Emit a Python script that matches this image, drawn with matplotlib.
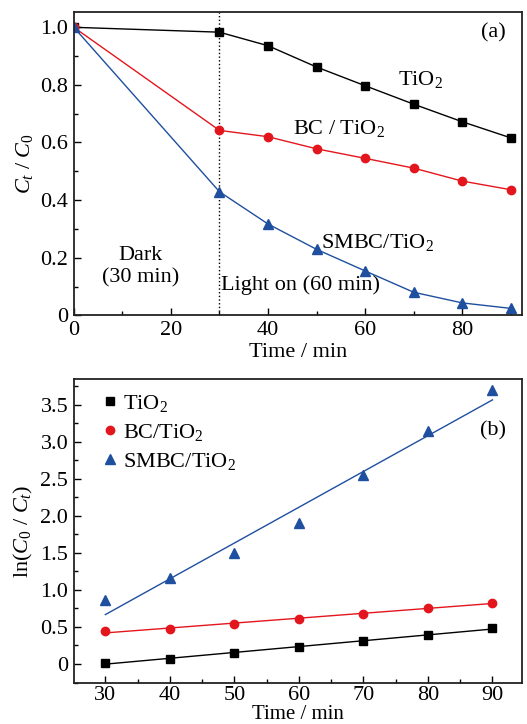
import numpy as np
import matplotlib
matplotlib.use("Agg")
import matplotlib.pyplot as plt
from matplotlib.ticker import MultipleLocator, FuncFormatter

plt.rcParams['font.family'] = ['Liberation Serif', 'DejaVu Serif']
plt.rcParams['mathtext.fontset'] = 'custom'
plt.rcParams['mathtext.rm'] = 'Liberation Serif'
plt.rcParams['mathtext.it'] = 'Liberation Serif:italic'
plt.rcParams['font.size'] = 16

# (a) degradation curves
t_a = [0, 30, 40, 50, 60, 70, 80, 90]
tio2_a = [1.0, 0.983, 0.936, 0.862, 0.797, 0.733, 0.672, 0.616]
bc_a = [1.0, 0.642, 0.620, 0.578, 0.545, 0.511, 0.466, 0.436]
smbc_a = [1.0, 0.429, 0.317, 0.229, 0.154, 0.080, 0.043, 0.024]

# (b) kinetics
t_b = [30, 40, 50, 60, 70, 80, 90]
tio2_b = [0.018, 0.068, 0.144, 0.230, 0.310, 0.396, 0.482]
bc_b = [0.442, 0.477, 0.545, 0.608, 0.671, 0.761, 0.829]
smbc_b = [0.865, 1.16, 1.50, 1.90, 2.55, 3.15, 3.70]

black = '#000000'
red = '#e3161d'
blue = '#1f4f9f'

fig = plt.figure(figsize=(5.27, 7.24), dpi=100)
ax1 = fig.add_axes([0.14, 0.5645, 0.8496, 0.4185])
ax2 = fig.add_axes([0.14, 0.057, 0.8496, 0.4195])

def zero_fmt(v, pos):
    if abs(v) < 1e-9:
        return '0'
    return f'{v:.1f}'

for ax in (ax1, ax2):
    for s in ax.spines.values():
        s.set_linewidth(1.3)
        s.set_color('#222222')
    ax.tick_params(which='both', direction='in', top=False, right=False,
                   labelsize=16, pad=4)
    ax.tick_params(which='major', length=5, width=1)
    ax.tick_params(which='minor', length=3, width=1)
    ax.yaxis.set_major_formatter(FuncFormatter(zero_fmt))

# panel (a)
ax1.axvline(30, color='black', linestyle=':', linewidth=1)
ax1.plot(t_a, tio2_a, '-s', color=black, lw=1, ms=5.5)
ax1.plot(t_a, bc_a, '-o', color=red, lw=1, ms=6)
ax1.plot(t_a, smbc_a, '-^', color=blue, lw=1, ms=6.5)
ax1.set_xlim(0, 92.2)
ax1.set_ylim(0, 1.052)
ax1.xaxis.set_major_locator(MultipleLocator(20))
ax1.xaxis.set_minor_locator(MultipleLocator(10))
ax1.yaxis.set_major_locator(MultipleLocator(0.2))
ax1.yaxis.set_minor_locator(MultipleLocator(0.1))
ax1.xaxis.set_major_formatter(FuncFormatter(lambda v, p: f'{v:.0f}'))
ax1.set_xlabel('Time / min', labelpad=2)
ax1.set_ylabel('$C_t$ / $C_0$', labelpad=4)
ax1.text(71.4, 0.82, 'TiO$_2$', ha='center', va='center')
ax1.text(54.7, 0.65, 'BC / TiO$_2$', ha='center', va='center')
ax1.text(62.5, 0.252, 'SMBC/TiO$_2$', ha='center', va='center')
ax1.text(13.7, 0.168, 'Dark\n(30 min)', ha='center', va='center', linespacing=1.2)
ax1.text(46.7, 0.105, 'Light on (60 min)', ha='center', va='center')
ax1.text(86.5, 0.98, '(a)', ha='center', va='center')

# panel (b)
ax2.plot(t_b, tio2_b, 's', color=black, ms=5.5, label='TiO$_2$')
ax2.plot(t_b, bc_b, 'o', color=red, ms=6, label='BC/TiO$_2$')
ax2.plot(t_b, smbc_b, '^', color=blue, ms=6.5, label='SMBC/TiO$_2$')
xs = np.array(t_b, dtype=float)
for ys, c in ((tio2_b, black), (bc_b, red), (smbc_b, blue)):
    k, b = np.polyfit(xs, ys, 1)
    ax2.plot(xs, k * xs + b, '-', color=c, lw=1)
ax2.set_xlim(25.1, 94.5)
ax2.set_ylim(-0.253, 3.85)
ax2.xaxis.set_major_locator(MultipleLocator(10))
ax2.xaxis.set_minor_locator(MultipleLocator(5))
ax2.yaxis.set_major_locator(MultipleLocator(0.5))
ax2.yaxis.set_minor_locator(MultipleLocator(0.25))
ax2.tick_params(axis='x', which='both', pad=2)
ax2.set_xlabel('Time / min', labelpad=0, fontsize=15)
ax2.set_ylabel('ln($C_0$ / $C_t$)', labelpad=4)
ax2.text(90.1, 3.15, '(b)', ha='center', va='center')
ax2.legend(loc='upper left', frameon=False, handlelength=0.6, handletextpad=0.3,
           borderaxespad=0, labelspacing=0.35, fontsize=16,
           bbox_to_anchor=(0.046, 0.983))

fig.savefig('out.png', dpi=100)
